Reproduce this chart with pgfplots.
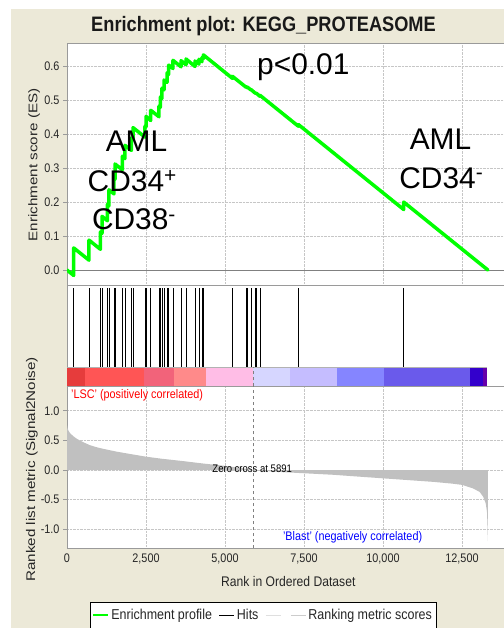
\documentclass[border=0pt]{standalone}
\usepackage{pgfplots}
\pgfplotsset{compat=1.18}
\usepackage{fontspec}
\setmainfont{Liberation Sans}[FakeStretch=0.87]
\newfontfamily\plainfont{Liberation Sans}
\newfontfamily\ylabfont{Liberation Sans}[FakeStretch=1.21]
\definecolor{beige}{HTML}{ECE9D8}
\definecolor{esgreen}{HTML}{00FF00}
\definecolor{metricgray}{HTML}{C0C0C0}
\definecolor{framegray}{HTML}{9A9A9A}
\definecolor{cbA}{HTML}{E63C3C}
\definecolor{cbB}{HTML}{FF5555}
\definecolor{cbC}{HTML}{F2637A}
\definecolor{cbD}{HTML}{FF8A8A}
\definecolor{cbE}{HTML}{FFBDE6}
\definecolor{cbF}{HTML}{D6D6FF}
\definecolor{cbG}{HTML}{C5BDFF}
\definecolor{cbH}{HTML}{8585FF}
\definecolor{cbI}{HTML}{6A5AEB}
\definecolor{cbJ}{HTML}{3300CC}
\definecolor{cbK}{HTML}{6600AA}
\begin{document}
\begin{tikzpicture}
\useasboundingbox (0bp,0bp) rectangle (504bp,628bp);
\fill[white] (0bp,0bp) rectangle (504bp,628bp);
\fill[beige] (11bp,0bp) rectangle (504bp,619bp);
\pgfplotsset{
  gsea/.style={
    scale only axis, width=440bp, xmin=0, xmax=13924,
    scaled x ticks=false, scaled y ticks=false,
    axis background/.style={fill=white},
    axis line style={framegray, line width=0.8bp},
    tick style={framegray, line width=0.6bp},
    tick label style={font=\fontsize{12.5}{12.5}\selectfont, text=black!85},
    /pgf/number format/assume math mode=true,
    tick align=outside, major tick length=4bp,
    grid style={densely dotted, gray!45, line width=0.6bp},
  }
}
% ---------------- Enrichment score panel ----------------
\begin{axis}[gsea, at={(67bp,585bp)}, anchor=north west, height=242bp,
  ymin=-0.044, ymax=0.668,
  xtick={2500,5000,7500,10000,12500}, xticklabels={}, xtick style={draw=none},
  ytick={0,0.1,0.2,0.3,0.4,0.5,0.6},
  yticklabels={0.0,0.1,0.2,0.3,0.4,0.5,0.6},
  ytick pos=left,
  xmajorgrids, ymajorgrids,
  ylabel={Enrichment score (ES)},
  ylabel style={at={(axis description cs:-0.0675,0.496)}, anchor=base,
    font=\ylabfont\fontsize{12.6}{12.6}\selectfont, text=black!85},
]
\addplot[gray, line width=0.8bp, forget plot] coordinates {(0,0) (13924,0)};
\addplot[esgreen, line width=3.5bp, line join=round, line cap=round] coordinates {
(0,0)
(212,-0.016)(212,0.065)
(696,0.029)(696,0.088)
(1057,0.061)(1057,0.112)
(1108,0.108)(1108,0.158)
(1278,0.145)(1278,0.193)
(1329,0.189)(1329,0.236)
(1487,0.224)(1487,0.269)
(1519,0.267)(1519,0.312)
(1753,0.295)(1753,0.335)
(1835,0.328)(1835,0.367)
(2038,0.352)(2038,0.388)
(2089,0.384)(2089,0.419)
(2468,0.391)(2468,0.423)
(2500,0.421)(2500,0.452)
(2649,0.440)(2649,0.470)
(2911,0.451)(2911,0.482)
(2954,0.479)(2954,0.509)
(3006,0.505)(3006,0.535)
(3070,0.530)(3070,0.559)
(3165,0.552)(3165,0.580)
(3218,0.576)(3218,0.603)
(3354,0.593)(3354,0.617)
(3608,0.598)(3608,0.616)
(3766,0.604)(3766,0.621)
(4051,0.599)(4051,0.615)
(4177,0.606)(4177,0.620)
(4272,0.613)(4272,0.625)
(4316,0.622)(4316,0.633)
(5234,0.564)(5234,0.570)
(5665,0.538)(5665,0.540)
(5709,0.536)(5709,0.538)
(5823,0.530)(5823,0.531)
(5962,0.520)(5962,0.521)
(5994,0.519)(5994,0.520)
(6108,0.511)(6108,0.514)
(7323,0.423)(7323,0.428)
(10655,0.178)(10655,0.200)
(13320,0.0)
};
\end{axis}
% ---------------- Hits + colour bar panel ----------------
\begin{axis}[gsea, at={(67bp,343bp)}, anchor=north west, height=101bp,
  ymin=-0.2405, ymax=1.038, xtick=\empty, ytick=\empty,
  unbounded coords=jump]
\addplot[black, line width=0.8bp] coordinates {
(212,0)(212,1)(212,nan)
(696,0)(696,1)(696,nan)
(1057,0)(1057,1)(1057,nan)
(1108,0)(1108,1)(1108,nan)
(1278,0)(1278,1)(1278,nan)
(1329,0)(1329,1)(1329,nan)
(1487,0)(1487,1)(1487,nan)
(1519,0)(1519,1)(1519,nan)
(1753,0)(1753,1)(1753,nan)
(1835,0)(1835,1)(1835,nan)
(2038,0)(2038,1)(2038,nan)
(2089,0)(2089,1)(2089,nan)
(2468,0)(2468,1)(2468,nan)
(2500,0)(2500,1)(2500,nan)
(2649,0)(2649,1)(2649,nan)
(2911,0)(2911,1)(2911,nan)
(2954,0)(2954,1)(2954,nan)
(3006,0)(3006,1)(3006,nan)
(3070,0)(3070,1)(3070,nan)
(3165,0)(3165,1)(3165,nan)
(3218,0)(3218,1)(3218,nan)
(3354,0)(3354,1)(3354,nan)
(3608,0)(3608,1)(3608,nan)
(3766,0)(3766,1)(3766,nan)
(4051,0)(4051,1)(4051,nan)
(4177,0)(4177,1)(4177,nan)
(4272,0)(4272,1)(4272,nan)
(4316,0)(4316,1)(4316,nan)
(5234,0)(5234,1)(5234,nan)
(5665,0)(5665,1)(5665,nan)
(5709,0)(5709,1)(5709,nan)
(5823,0)(5823,1)(5823,nan)
(5962,0)(5962,1)(5962,nan)
(5994,0)(5994,1)(5994,nan)
(6108,0)(6108,1)(6108,nan)
(7323,0)(7323,1)(7323,nan)
(10655,0)(10655,1)
};
\addplot[fill=cbA, draw=none] coordinates {(0,-0.2405)(579,-0.2405)(579,0)(0,0)};
\addplot[fill=cbB, draw=none] coordinates {(579,-0.2405)(2424,-0.2405)(2424,0)(579,0)};
\addplot[fill=cbC, draw=none] coordinates {(2424,-0.2405)(3373,-0.2405)(3373,0)(2424,0)};
\addplot[fill=cbD, draw=none] coordinates {(3373,-0.2405)(4389,-0.2405)(4389,0)(3373,0)};
\addplot[fill=cbE, draw=none] coordinates {(4389,-0.2405)(5886,-0.2405)(5886,0)(4389,0)};
\addplot[fill=cbF, draw=none] coordinates {(5886,-0.2405)(7047,-0.2405)(7047,0)(5886,0)};
\addplot[fill=cbG, draw=none] coordinates {(7047,-0.2405)(8544,-0.2405)(8544,0)(7047,0)};
\addplot[fill=cbH, draw=none] coordinates {(8544,-0.2405)(10019,-0.2405)(10019,0)(8544,0)};
\addplot[fill=cbI, draw=none] coordinates {(10019,-0.2405)(12763,-0.2405)(12763,0)(10019,0)};
\addplot[fill=cbJ, draw=none] coordinates {(12763,-0.2405)(13180,-0.2405)(13180,0)(12763,0)};
\addplot[fill=cbK, draw=none] coordinates {(13180,-0.2405)(13290,-0.2405)(13290,0)(13180,0)};
\addplot[gray!60, line width=0.5bp] coordinates {(0,0)(13290,0)};
\addplot[gray, dashed, line width=0.5bp] coordinates {(5891,-0.2405)(5891,0)};
\end{axis}
% ---------------- Ranked list metric panel ----------------
\begin{axis}[gsea, at={(67bp,242bp)}, anchor=north west, height=162bp,
  ymin=-1.315, ymax=1.417,
  xtick={0,2500,5000,7500,10000,12500},
  xticklabels={0,{2,500},{5,000},{7,500},{10,000},{12,500}},
  xtick style={draw=none},
  xticklabel style={yshift=2bp},
  ytick={-1,-0.5,0,0.5,1},
  yticklabels={-1.0,-0.5,0.0,0.5,1.0},
  ytick pos=left,
  xmajorgrids, ymajorgrids,
  xlabel={Rank in Ordered Dataset},
  xlabel style={at={(axis description cs:0.503,0)}, anchor=base, yshift=-38.7bp,
    font=\fontsize{14}{14}\selectfont, text=black!85},
  ylabel={Ranked list metric (Signal2Noise)},
  ylabel style={at={(axis description cs:-0.0727,0.4846)}, anchor=base,
    font=\ylabfont\fontsize{12.6}{12.6}\selectfont, text=black!85},
  legend image code/.code={\draw[#1] (0bp,0bp) -- (15bp,0bp);},
  legend style={at={(axis description cs:0.0523,-0.3333)}, anchor=north west,
    legend columns=4, draw=black, line width=0.8bp, fill=white,
    font=\fontsize{14.4}{14.4}\selectfont, text=black!85,
    inner xsep=2bp, inner ysep=5bp,
    /tikz/every even column/.append style={column sep=5bp}},
]
\addplot[fill=metricgray, draw=none, forget plot] coordinates {
(0,0)(0,0.76)(20,0.70)(50,0.66)(100,0.62)(200,0.57)(300,0.53)(400,0.50)
(550,0.46)(720,0.42)(900,0.39)(1040,0.37)(1300,0.34)(1570,0.31)(2000,0.27)
(2500,0.225)(3000,0.19)(3680,0.15)(4300,0.11)(5000,0.07)(5500,0.035)
(5891,0)(6500,-0.025)(7160,-0.045)(8420,-0.08)(9200,-0.11)(10000,-0.14)
(10800,-0.17)(11600,-0.20)(12200,-0.23)(12500,-0.25)(12850,-0.31)
(13060,-0.37)(13170,-0.45)(13250,-0.56)(13290,-0.70)(13305,-0.90)
(13320,-1.20)(13320,0)
};
\addplot[gray, dashed, line width=0.5bp, forget plot] coordinates {(5891,-1.315)(5891,1.417)};
\node[font=\fontsize{11}{11}\selectfont, text=black] at (axis cs:5861,0.03) {Zero cross at 5891};
\node[anchor=west, font=\fontsize{12.5}{12.5}\selectfont, text=red] at (axis cs:20,1.265) {'LSC' (positively correlated)};
\node[anchor=east, font=\fontsize{12.5}{12.5}\selectfont, text=blue] at (axis cs:11351,-1.13) {'Blast' (negatively correlated)};
\addlegendimage{esgreen, line width=2bp}
\addlegendentry{Enrichment profile}
\addlegendimage{black, line width=1bp}
\addlegendentry{Hits}
\addlegendimage{gray!25, line width=1bp}
\addlegendentry{}
\addlegendimage{gray!40, line width=1bp}
\addlegendentry{Ranking metric scores}
\end{axis}
% ---------------- Title and annotations ----------------
\node[anchor=base, font=\bfseries\fontsize{21}{21}\selectfont, text=black!90] at (263.5bp,596.3bp) {Enrichment plot: KEGG\_PROTEASOME};
\node[anchor=base, font=\plainfont\fontsize{30}{30}\selectfont] at (136.5bp,476.3bp) {AML};
\node[anchor=base, font=\plainfont\fontsize{30}{30}\selectfont] at (132.3bp,436.3bp) {CD34\textsuperscript{+}};
\node[anchor=base, font=\plainfont\fontsize{30}{30}\selectfont] at (134bp,398bp) {CD38\textsuperscript{-}};
\node[anchor=base, font=\plainfont\fontsize{30}{30}\selectfont] at (303.3bp,553bp) {p<0.01};
\node[anchor=base, font=\plainfont\fontsize{30}{30}\selectfont] at (440.5bp,478bp) {AML};
\node[anchor=base, font=\plainfont\fontsize{30}{30}\selectfont] at (441.3bp,439bp) {CD34\textsuperscript{-}};
\end{tikzpicture}
\end{document}
